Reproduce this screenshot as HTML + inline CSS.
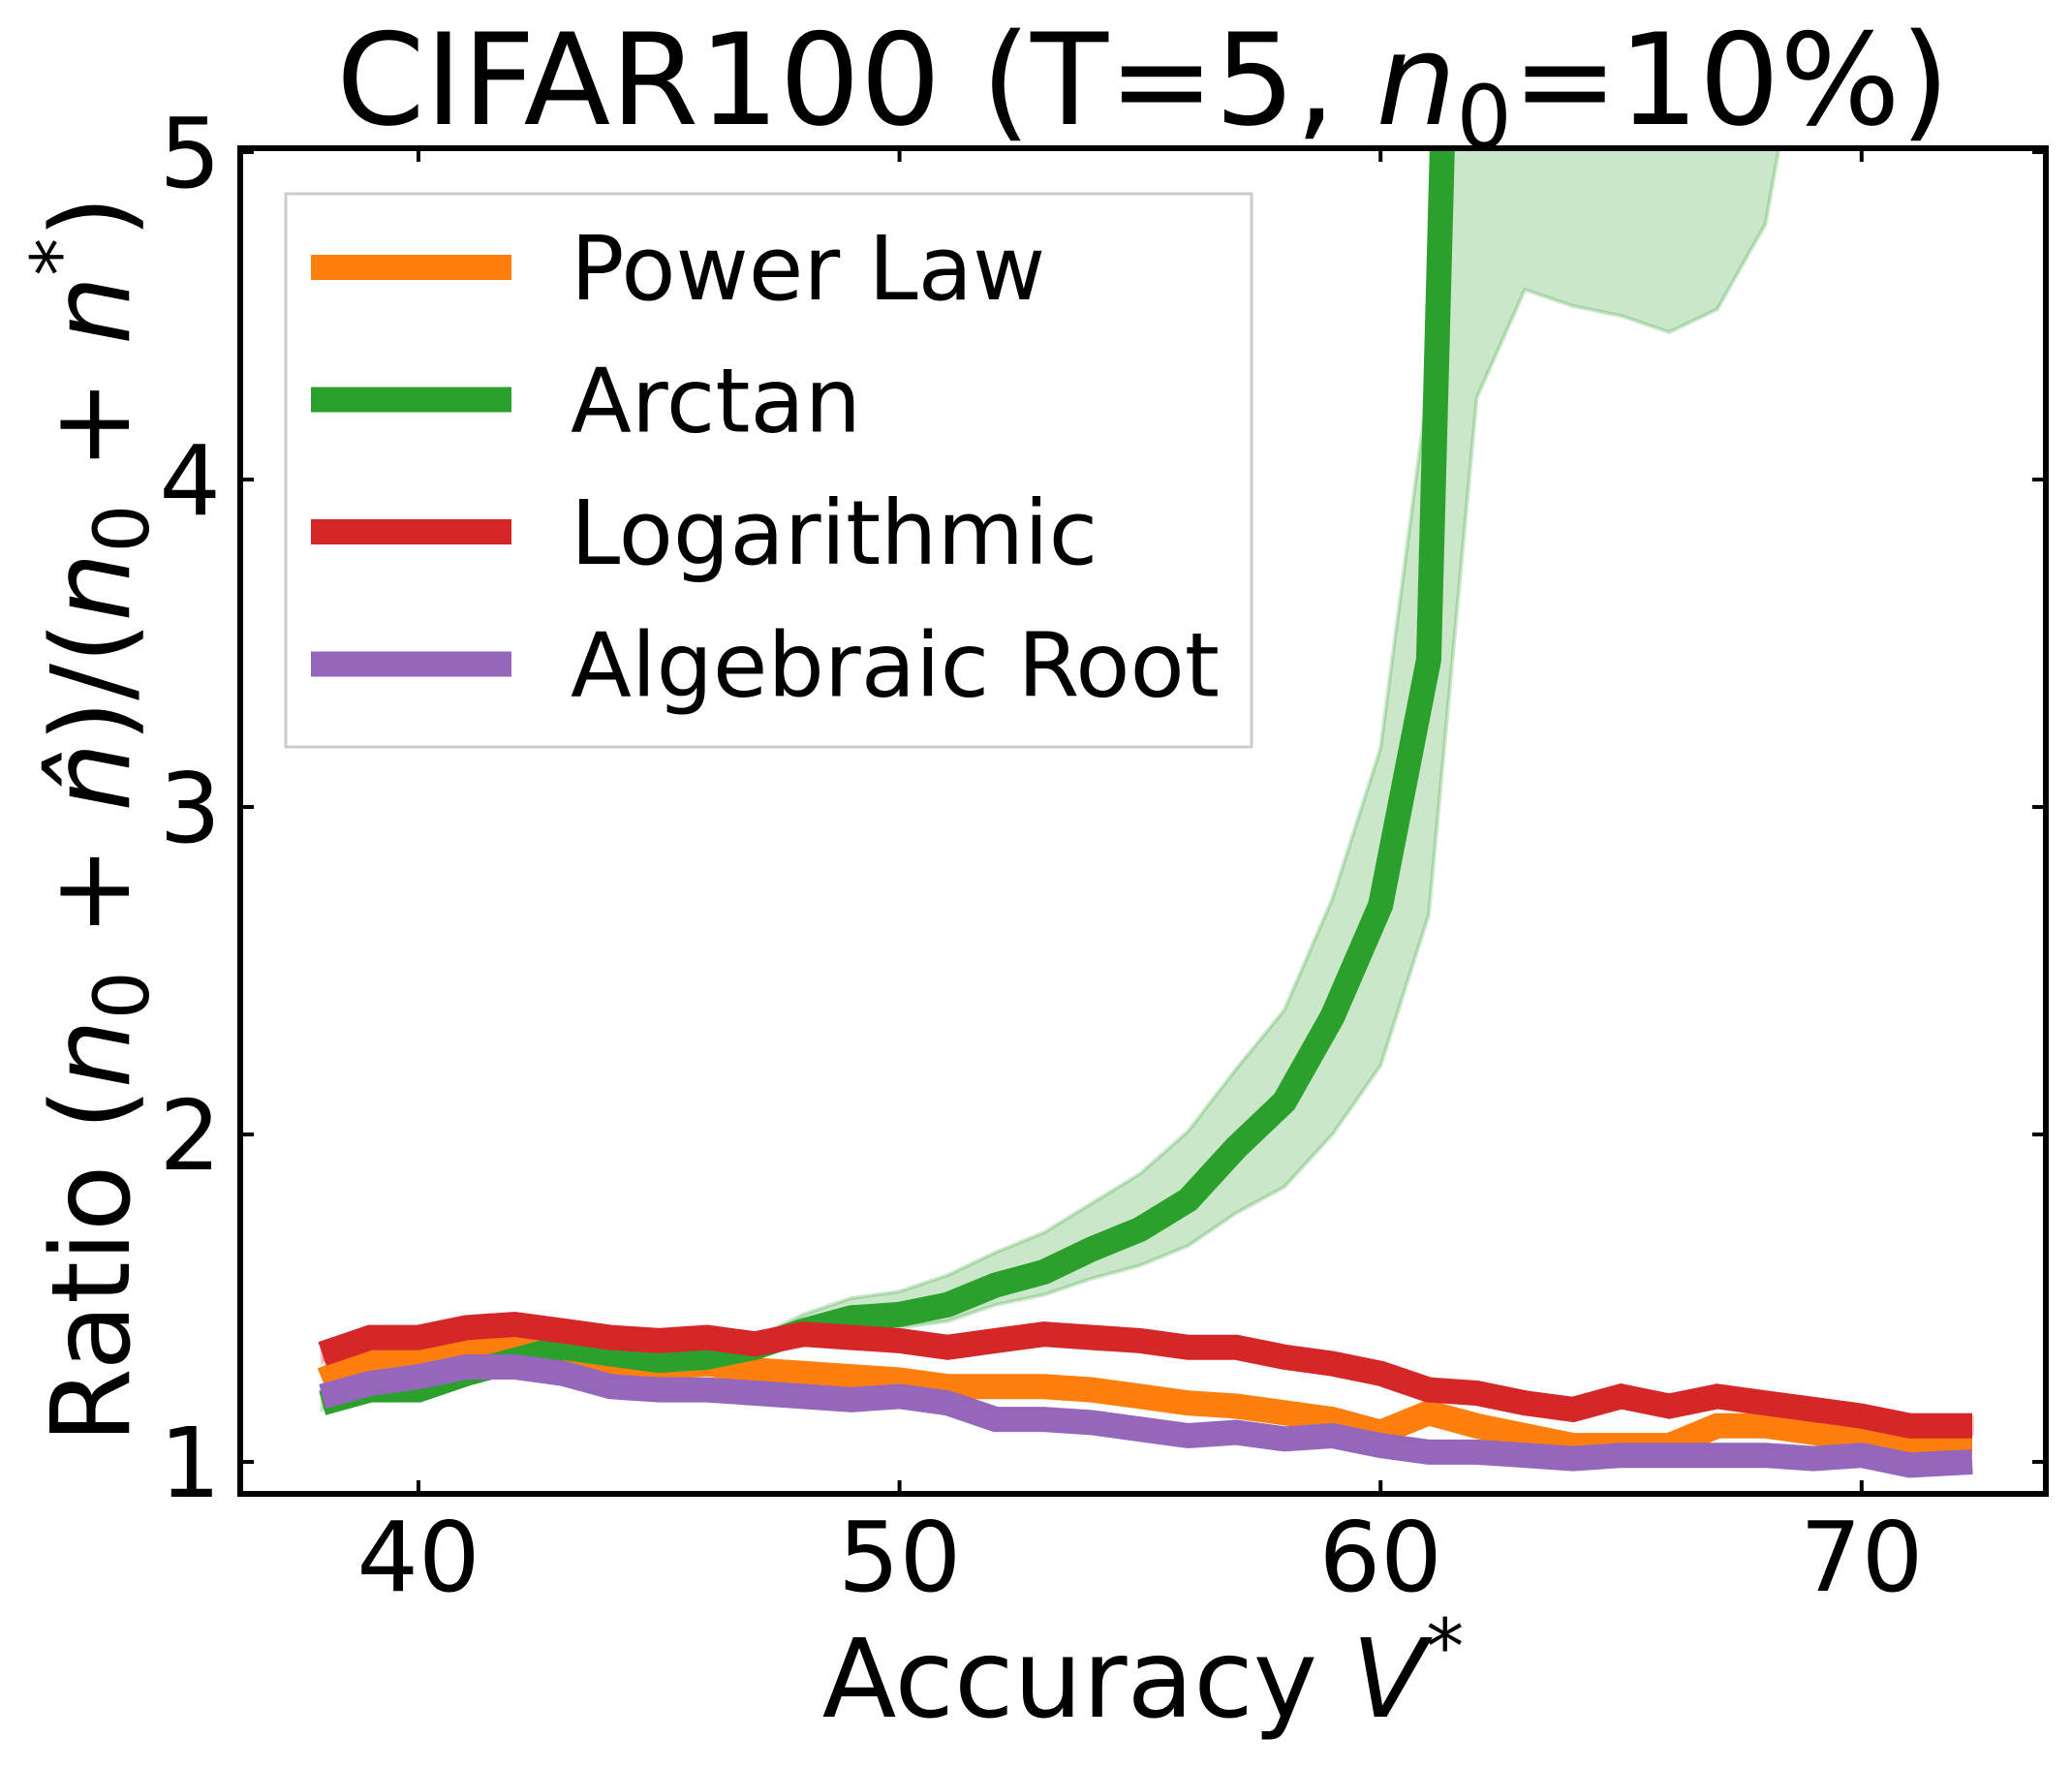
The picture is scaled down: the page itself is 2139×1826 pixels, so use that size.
<!DOCTYPE html>
<html><head><meta charset="utf-8"><style>
html,body{margin:0;padding:0;background:#fff;}
svg{display:block;font-family:"DejaVu Sans","Liberation Sans",sans-serif;}
</style></head><body>
<svg id="chart" width="2139" height="1826" viewBox="0 0 2139 1826" xmlns="http://www.w3.org/2000/svg">
<defs><clipPath id="plotclip"><rect x="248" y="153" width="1864" height="1389"/></clipPath></defs>
<text x="1180" y="128" font-size="131" text-anchor="middle">CIFAR100 (T=5, <tspan font-style="italic">n</tspan><tspan font-size="90" dy="24">0</tspan><tspan dy="-24">=10%)</tspan></text>
<text x="1180" y="1772" font-size="112" text-anchor="middle">Accuracy <tspan font-style="italic">V</tspan><tspan font-size="78" dy="-45">*</tspan></text>
<text transform="translate(133,846) rotate(-90)" font-size="112" text-anchor="middle">Ratio (<tspan font-style="italic">n</tspan><tspan font-size="78" dy="20">0</tspan><tspan dy="-20"> + </tspan><tspan font-style="italic">n̂</tspan>)/(<tspan font-style="italic">n</tspan><tspan font-size="78" dy="20">0</tspan><tspan dy="-20"> + </tspan><tspan font-style="italic">n</tspan><tspan font-size="78" dy="-45">*</tspan><tspan dy="45">)</tspan></text>
<g id="bands" clip-path="url(#plotclip)"></g>
<g id="lines" clip-path="url(#plotclip)"></g>
<g id="axes"></g>
<g id="legend"></g>
</svg>
<script>
const xs = [38,39,40,41,42,43,44,45,46,47,48,49,50,51,52,53,54,55,56,57,58,59,60,61,62,63,64,65,66,67,68,69,70,71,72.3];
const powerLaw = [1.25,1.31,1.32,1.35,1.36,1.33,1.28,1.29,1.30,1.28,1.27,1.26,1.25,1.23,1.23,1.23,1.22,1.20,1.18,1.17,1.15,1.13,1.09,1.15,1.11,1.08,1.05,1.05,1.05,1.11,1.11,1.09,1.07,1.06,1.06];
const arctan = [1.18,1.22,1.22,1.27,1.31,1.35,1.33,1.31,1.32,1.35,1.40,1.44,1.45,1.48,1.54,1.58,1.65,1.71,1.80,1.96,2.10,2.36,2.70,3.45,9.0];
const arctanLow = [1.16,1.20,1.20,1.25,1.29,1.33,1.31,1.29,1.30,1.33,1.37,1.40,1.41,1.43,1.48,1.51,1.56,1.60,1.66,1.76,1.84,2.00,2.21,2.67,4.25,4.58,4.53,4.50,4.45,4.52,4.78,5.6];
const arctanHigh = [1.20,1.24,1.24,1.29,1.33,1.37,1.35,1.33,1.34,1.38,1.45,1.50,1.52,1.57,1.64,1.70,1.79,1.88,2.01,2.20,2.38,2.72,3.18,4.30,12,14,14,14,14,14,14,14];
const logarithmic = [1.33,1.38,1.38,1.41,1.42,1.40,1.38,1.37,1.38,1.36,1.39,1.38,1.37,1.35,1.37,1.39,1.38,1.37,1.35,1.35,1.32,1.30,1.27,1.22,1.21,1.18,1.16,1.20,1.17,1.20,1.18,1.16,1.14,1.11,1.11];
const algebraicRoot = [1.20,1.24,1.26,1.29,1.29,1.27,1.23,1.22,1.22,1.21,1.20,1.19,1.20,1.18,1.13,1.13,1.12,1.10,1.08,1.09,1.07,1.08,1.05,1.03,1.03,1.02,1.01,1.02,1.02,1.02,1.02,1.01,1.02,0.99,1.00];
const xTicks = [40,50,60,70];
const yTicks = [1,2,3,4,5];
const legendLabels = ["Power Law","Arctan","Logarithmic","Algebraic Root"];
const colors = ["#ff7f0e","#2ca02c","#d62728","#9467bd"];

const NS="http://www.w3.org/2000/svg";
const L=248,R=2112,T=153,B=1542;
const X=v=>432+(v-40)*49.66;
const Y=v=>1509-(v-1)*338;
function mk(tag,attrs,parent){const e=document.createElementNS(NS,tag);for(const k in attrs)e.setAttribute(k,attrs[k]);parent.appendChild(e);return e;}
const bands=document.getElementById('bands'),lines=document.getElementById('lines'),axes=document.getElementById('axes'),legend=document.getElementById('legend');
const pts=(arr)=>arr.map((v,i)=>X(xs[i]).toFixed(1)+','+Y(v).toFixed(1));

let bp=pts(arctanLow).concat(pts(arctanHigh).reverse());
let band=mk('polygon',{points:bp.join(' '),fill:'#2ca02c','fill-opacity':0.25,stroke:'#2ca02c','stroke-opacity':0.25,'stroke-width':4},bands);


let lb=logarithmic.map((v,i)=>X(xs[i]).toFixed(1)+','+Y(v+0.025).toFixed(1)).concat(logarithmic.map((v,i)=>X(xs[i]).toFixed(1)+','+Y(v-0.025).toFixed(1)).reverse());
let band2=mk('polygon',{points:lb.join(' '),fill:'#d62728','fill-opacity':0.25,stroke:'#d62728','stroke-opacity':0.25,'stroke-width':4},bands);



const series=[powerLaw,arctan,logarithmic,algebraicRoot];
const names=['power-law-line','arctan-line','logarithmic-line','algebraic-root-line'];
series.forEach((s,k)=>{
  const p=mk('polyline',{points:pts(s).join(' '),fill:'none',stroke:colors[k],'stroke-width':26,'stroke-linejoin':'miter'},lines);
  
  
});

const fr=mk('rect',{x:L,y:T,width:R-L,height:B-T,fill:'none',stroke:'#000','stroke-width':6},axes);


xTicks.forEach(t=>{
  const x=X(t);
  mk('line',{x1:x,y1:B,x2:x,y2:B-14,stroke:'#000','stroke-width':4},axes);
  mk('line',{x1:x,y1:T,x2:x,y2:T+14,stroke:'#000','stroke-width':4},axes);
  const tx=mk('text',{x:x,y:B+100,'font-size':100,'text-anchor':'middle'},axes);
  tx.textContent=t;
  
  
});
yTicks.forEach(t=>{
  const y=Y(t);
  mk('line',{x1:L,y1:y,x2:L+14,y2:y,stroke:'#000','stroke-width':4},axes);
  mk('line',{x1:R,y1:y,x2:R-14,y2:y,stroke:'#000','stroke-width':4},axes);
  const ty=mk('text',{x:L-20,y:y+36,'font-size':100,'text-anchor':'end'},axes);
  ty.textContent=t;
  
  
});

const lbox=mk('rect',{x:295,y:200,width:997,height:571,fill:'#fff','fill-opacity':0.8,stroke:'#ccc','stroke-width':3},legend);


legendLabels.forEach((lab,k)=>{
  const y=276+k*136.5;
  const ln=mk('line',{x1:321,y1:y,x2:528,y2:y,stroke:colors[k],'stroke-width':26},legend);
  
  
  const tx=mk('text',{x:589,y:y+33,'font-size':92},legend);
  tx.textContent=lab;
  
  
});
</script>
</body></html>
